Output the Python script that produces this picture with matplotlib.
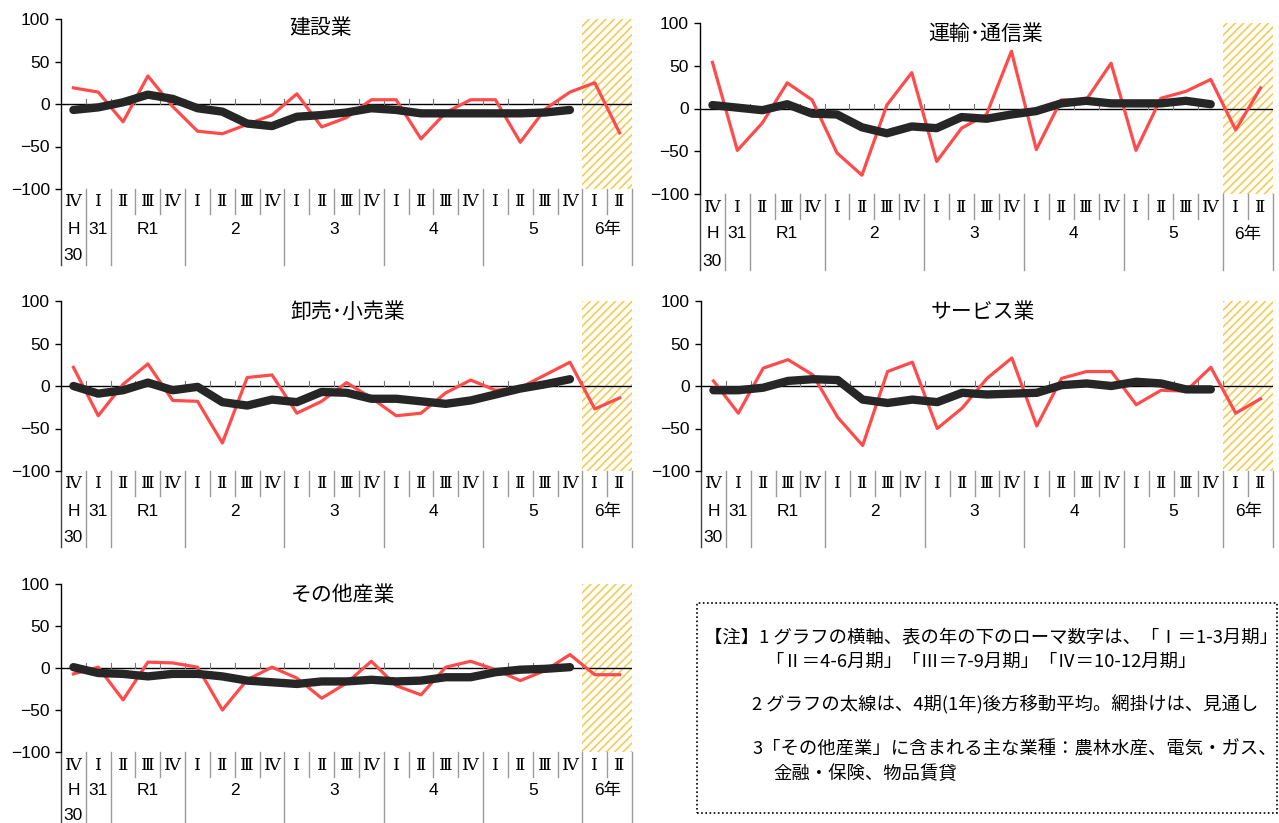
import matplotlib
matplotlib.use('Agg')
import matplotlib.pyplot as plt
from matplotlib.transforms import blended_transform_factory
from matplotlib.patches import Rectangle
import numpy as np

plt.rcParams['font.family'] = ['Liberation Sans', 'Noto Sans CJK JP']
plt.rcParams['hatch.linewidth'] = 1.1

W, H = 1279, 823

# x-axis categories
quarters = ['Ⅳ', 'Ⅰ', 'Ⅱ', 'Ⅲ', 'Ⅳ', 'Ⅰ', 'Ⅱ', 'Ⅲ', 'Ⅳ', 'Ⅰ', 'Ⅱ', 'Ⅲ', 'Ⅳ',
            'Ⅰ', 'Ⅱ', 'Ⅲ', 'Ⅳ', 'Ⅰ', 'Ⅱ', 'Ⅲ', 'Ⅳ', 'Ⅰ', 'Ⅱ']
# (position, row, text)
year_labels = [(0, 1, 'H'), (0, 2, '30'), (1, 1, '31'), (3, 1, 'R1'), (6.5, 1, '2'),
               (10.5, 1, '3'), (14.5, 1, '4'), (18.5, 1, '5'), (21.5, 1, '6年')]
year_breaks = [-0.5, 0.5, 1.5, 4.5, 8.5, 12.5, 16.5, 20.5, 22.5]

titles = ['建設業', '運輸･通信業', '卸売･小売業', 'サービス業', 'その他産業']

# quarterly values (red)
construction = [19, 14, -21, 33, -3, -32, -35, -24, -13, 12, -27, -16, 5, 5, -41, -10, 5, 5, -45, -6, 14, 25, -34]
transport = [54, -49, -17, 30, 10, -52, -78, 4, 42, -62, -23, -7, 67, -48, 10, 10, 53, -49, 12, 20, 34, -25, 24]
trade = [22, -35, 2, 26, -17, -18, -67, 10, 13, -32, -18, 4, -14, -35, -32, -8, 7, -5, -2, 13, 28, -27, -14]
service = [6, -32, 21, 31, 13, -37, -70, 17, 28, -50, -26, 9, 33, -47, 9, 17, 17, -22, -5, -6, 22, -32, -15]
other = [-7, 1, -38, 7, 6, 1, -50, -14, 1, -12, -36, -18, 8, -21, -32, 1, 8, -2, -15, -3, 16, -8, -8]

# 4-quarter moving average (black), up to 5年IV
construction_ma = [-7, -4, 2, 11, 6, -5, -9, -23, -26, -15, -13, -10, -5, -7, -11, -11, -11, -11, -11, -10, -7]
transport_ma = [4, 1, -2, 5, -6, -7, -22, -29, -21, -23, -10, -12, -7, -3, 6, 9, 6, 6, 6, 9, 5]
trade_ma = [0, -9, -5, 4, -5, -1, -19, -23, -16, -19, -7, -8, -15, -15, -18, -21, -17, -10, -3, 2, 8]
service_ma = [-5, -5, -2, 6, 8, 7, -16, -20, -16, -19, -8, -10, -9, -8, 1, 3, 0, 5, 3, -4, -4]
other_ma = [1, -6, -7, -10, -7, -7, -10, -15, -17, -19, -16, -16, -14, -16, -15, -11, -11, -5, -2, -1, 1]

series = [construction, transport, trade, service, other]
mas = [construction_ma, transport_ma, trade_ma, service_ma, other_ma]

# panel rectangles in pixels: left, top, right, bottom
boxes = [(61, 19, 632, 189), (700, 23, 1273, 194), (61, 301, 632, 471),
         (701, 301, 1273, 471), (61, 584, 632, 752)]
title_pos = [(321, 28), (986, 34), (348, 312), (983, 312), (343, 595)]
row_gap = [27, 27, 27, 27, 25.5]

fig = plt.figure(figsize=(W / 100, H / 100), dpi=100)

for i in range(5):
    l, t, r, b = boxes[i]
    ax = fig.add_axes([l / W, 1 - b / H, (r - l) / W, (b - t) / H])
    hp = b - t
    x = np.arange(len(series[i]))
    ax.axvspan(20.5, 22.5, facecolor='white', edgecolor='#F5C945', hatch='////', lw=0, zorder=0)
    ax.axhline(0, color='black', lw=1, zorder=1)
    ax.plot(x, series[i], color='#FF4B4B', lw=2.3, zorder=2)
    ax.plot(np.arange(len(mas[i])), mas[i], color='#262626', lw=6, solid_capstyle='round',
            solid_joinstyle='round', zorder=3)
    ax.set_xlim(-0.5, 22.5)
    ax.set_ylim(-100, 100)
    ax.set_yticks([-100, -50, 0, 50, 100])
    ax.tick_params(axis='y', labelsize=12.5, length=4, width=1, pad=4)
    ax.set_xticks([])
    for s in ['top', 'right', 'bottom']:
        ax.spines[s].set_visible(False)
    ax.spines['left'].set_linewidth(1)

    trans = blended_transform_factory(ax.transData, ax.transAxes)
    # small ticks on the zero line
    for k in range(21):
        ax.plot([k + 0.5, k + 0.5], [0.5, 0.5 + 5 / hp], transform=trans,
                color='#777777', lw=0.8, zorder=1)
    # table below the axis
    for k in range(22):
        xb = k + 0.5
        long_ = xb in year_breaks
        y2 = -76 / hp if long_ else -25 / hp
        ax.plot([xb, xb], [0, y2], transform=trans, color='#999999', lw=1, clip_on=False)
    ax.plot([-0.5, -0.5], [0, -76 / hp], transform=trans, color='#444444', lw=1, clip_on=False)
    ax.plot([22.5, 22.5], [0, -76 / hp], transform=trans, color='#999999', lw=1, clip_on=False)
    for k, q in enumerate(quarters):
        ax.text(k, -13 / hp, q, transform=trans, ha='center', va='center', fontsize=12.5,
                family=['DejaVu Serif', 'Noto Sans CJK JP'])
    for pos, row, txt in year_labels:
        ax.text(pos, -(13 + row_gap[i] * row) / hp, txt, transform=trans, ha='center',
                va='center', fontsize=12.5)

    fig.text(title_pos[i][0] / W, 1 - title_pos[i][1] / H, titles[i], ha='center', va='center',
             fontsize=15, family=['Noto Sans CJK JP'])

# note box
fig.add_artist(Rectangle((697 / W, 1 - 813 / H), (1277 - 697) / W, (813 - 603) / H,
                         transform=fig.transFigure, fill=False, ls=(0, (1, 1.5)), lw=1.2,
                         edgecolor='black'))
notes = [(704, 637, '【注】1 グラフの横軸、表の年の下のローマ数字は、「Ⅰ＝1-3月期」'),
         (765, 662, '「Ⅱ＝4-6月期」「Ⅲ＝7-9月期」「Ⅳ＝10-12月期」'),
         (752, 705, '2 グラフの太線は、4期(1年)後方移動平均。網掛けは、見通し'),
         (752, 749, '3「その他産業」に含まれる主な業種：農林水産、電気・ガス、'),
         (773, 774, '金融・保険、物品賃貸')]
for nx, ny, txt in notes:
    fig.text(nx / W, 1 - ny / H, txt, ha='left', va='center', fontsize=13.2,
             family=['Noto Sans CJK JP'])

fig.savefig('out.png', dpi=100)
